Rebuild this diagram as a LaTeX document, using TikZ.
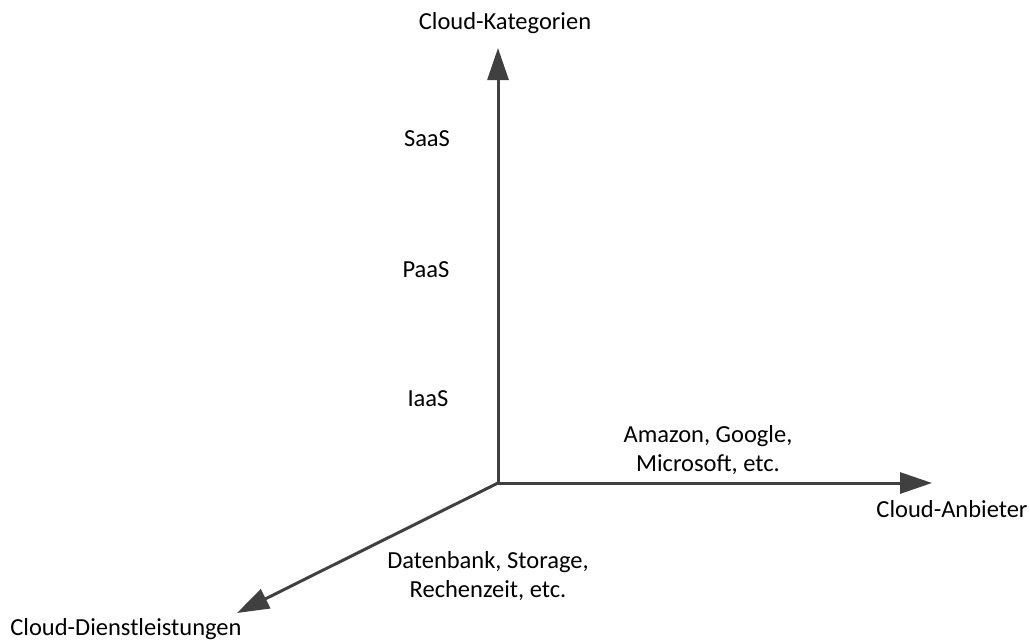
\documentclass[tikz,border=0pt]{standalone}
\usepackage{fontspec}
\setmainfont{Carlito}
\usetikzlibrary{arrows.meta}
\definecolor{axisgray}{HTML}{404040}
\begin{document}
\begin{tikzpicture}[x=1pt,y=-1pt,
  axis/.style={draw=axisgray, line width=3pt, -{Triangle[length=32pt,width=21pt]}},
  lbl/.style={font=\fontsize{24.5}{29}\selectfont, text=black, inner sep=0pt, anchor=base}]
\useasboundingbox (0,0) rectangle (1030,642);
\coordinate (O) at (498,483);
\coordinate (up) at (498,48);
\coordinate (right) at (932,483);
\coordinate (diag) at (237,613);
\draw[axis] (O) -- (up);
\draw[axis] (O) -- (right);
\draw[axis] (O) -- (diag);
\node[lbl] (kat) at (505,30) {Cloud-Kategorien};
\node[lbl] (saas) at (427,146) {SaaS};
\node[lbl] (paas) at (426,277) {PaaS};
\node[lbl] (iaas) at (428,406) {IaaS};
\node[lbl] (amz1) at (708,442) {Amazon, Google,};
\node[lbl] (amz2) at (708,471) {Microsoft, etc.};
\node[lbl] (anb) at (952,517) {Cloud-Anbieter};
\node[lbl] (db1) at (488,568) {Datenbank, Storage,};
\node[lbl] (db2) at (488,597) {Rechenzeit, etc.};
\node[lbl] (dl) at (126,635) {Cloud-Dienstleistungen};
\end{tikzpicture}
\end{document}
